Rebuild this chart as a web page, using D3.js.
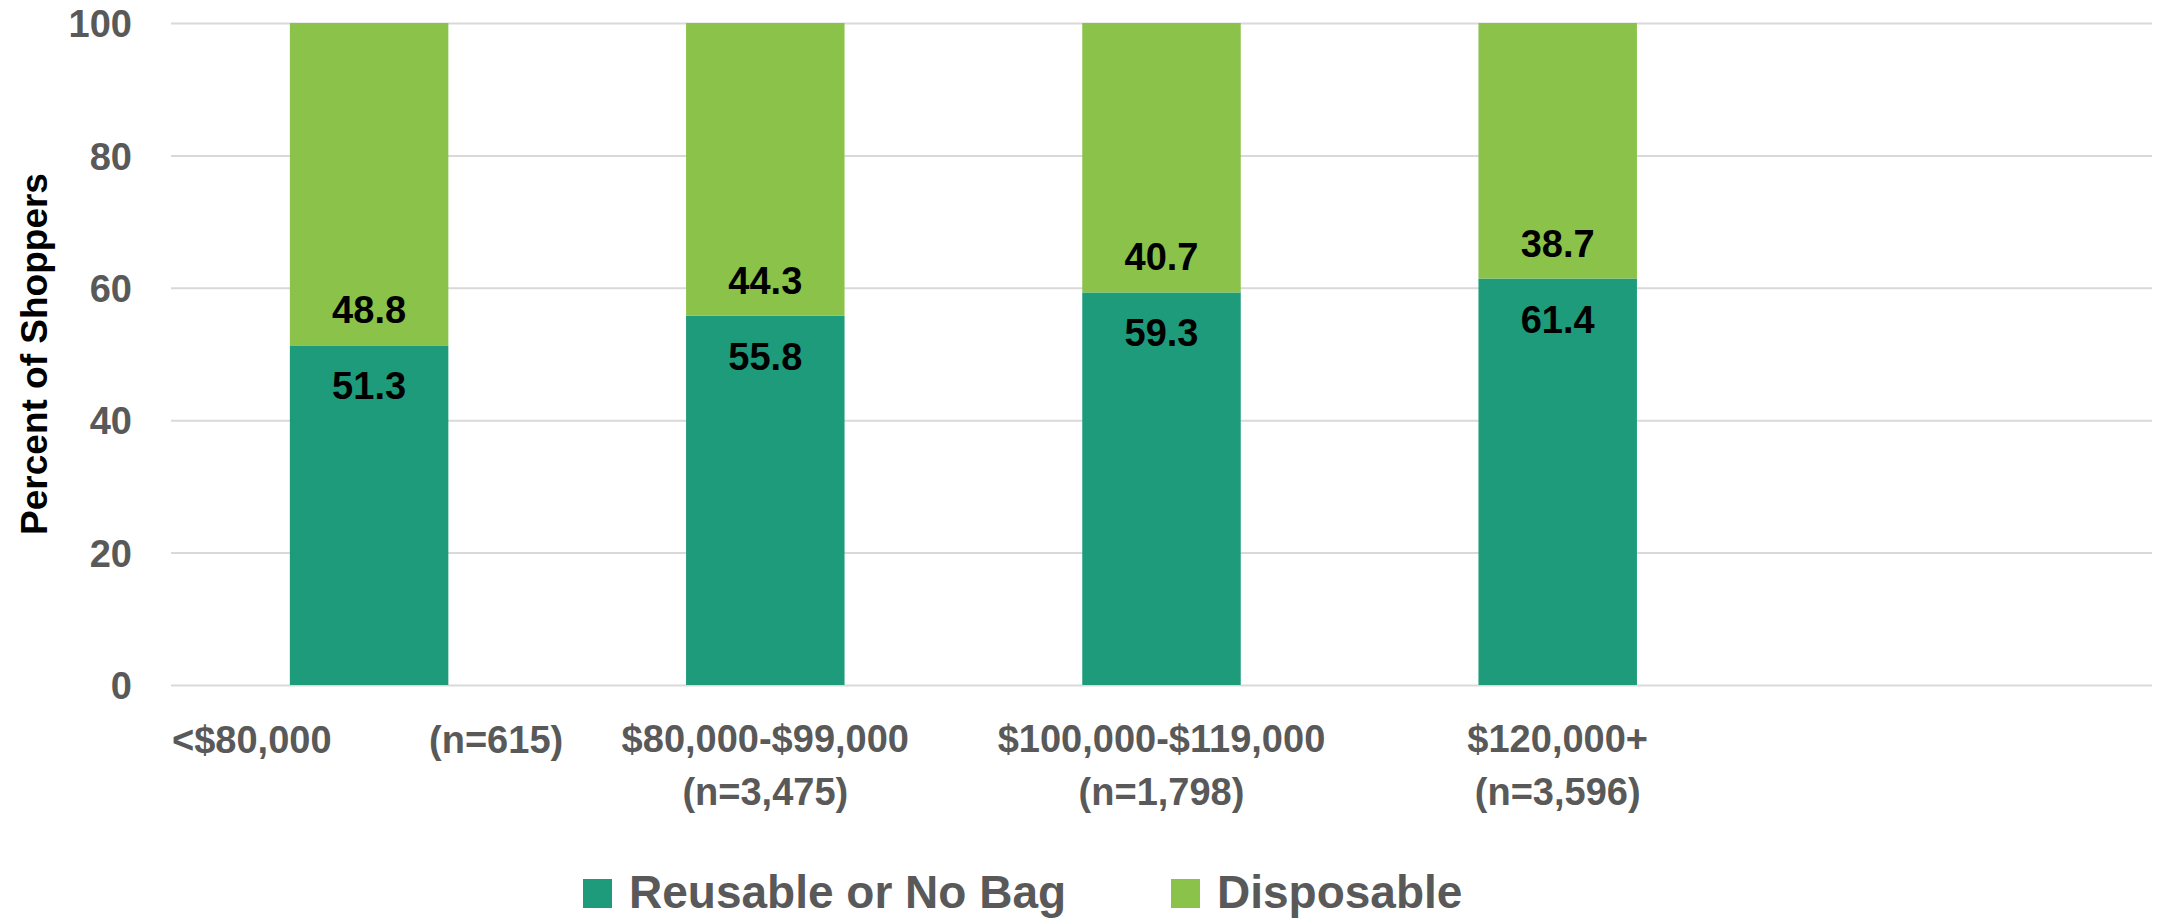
<!DOCTYPE html>
<html>
<head>
<meta charset="utf-8">
<script src="https://cdn.jsdelivr.net/npm/d3@7"></script>
<style>
  html, body { margin: 0; padding: 0; background: #ffffff; }
  svg { display: block; }
  text { font-family: "Liberation Sans", Arial, sans-serif; font-weight: bold; }
</style>
</head>
<body>
<svg id="chart" width="2165" height="918"></svg>
<script>
// ---- data ----
const categories = ["<$80,000 (n=615)", "$80,000-$99,000 (n=3,475)", "$100,000-$119,000 (n=1,798)", "$120,000+ (n=3,596)", ""];
const labelLine1 = ["<$80,000", "$80,000-$99,000", "$100,000-$119,000", "$120,000+", ""];
const labelLine2 = ["(n=615)", "(n=3,475)", "(n=1,798)", "(n=3,596)", ""];
const reusable   = [51.3, 55.8, 59.3, 61.4, null];
const disposable = [48.8, 44.3, 40.7, 38.7, null];
const seriesNames = ["Reusable or No Bag", "Disposable"];
const yTicks = [0, 20, 40, 60, 80, 100];
const yTitle = "Percent of Shoppers";

// ---- styles ----
const colors = ["#1E9B7B", "#8BC34A"];
const gray = "#595959";

const svg = d3.select("#chart");
const plot = { left: 171, right: 2152, top: 23, bottom: 685 };

const x = d3.scaleBand()
  .domain(d3.range(categories.length))
  .range([plot.left, plot.right])
  .paddingInner(0.6)
  .paddingOuter(0.3);

const y = d3.scaleLinear().domain([0, 100]).range([plot.bottom, plot.top]).clamp(true);

// gridlines
const grid = svg.append("g")
  .attr("transform", `translate(${plot.left},0)`)
  .call(d3.axisLeft(y).tickValues(yTicks).tickSize(-(plot.right - plot.left)).tickFormat(""));
grid.select(".domain").remove();
grid.selectAll(".tick line").attr("stroke", "#D9D9D9").attr("stroke-width", 2);

// y tick labels
const yAxis = svg.append("g")
  .attr("transform", `translate(132,0)`)
  .call(d3.axisLeft(y).tickValues(yTicks).tickSize(0).tickPadding(0));
yAxis.select(".domain").remove();
yAxis.selectAll(".tick text")
  .attr("fill", gray)
  .style("font-size", "38px")
  .attr("dy", "0.36em");

// y title
svg.append("text")
  .attr("transform", `translate(47,${(plot.top + plot.bottom) / 2}) rotate(-90)`)
  .attr("text-anchor", "middle")
  .attr("fill", "#000")
  .style("font-size", "37px")
  .text(yTitle);

// stacked data
const rows = categories.map((c, i) => ({ i, r: reusable[i], d: disposable[i] })).filter(d => d.r != null);

const barG = svg.append("g");
barG.selectAll("rect.reuse").data(rows).join("rect")
  .attr("class", "reuse")
  .attr("x", d => x(d.i))
  .attr("width", x.bandwidth())
  .attr("y", d => y(d.r))
  .attr("height", d => y(0) - y(d.r))
  .attr("fill", colors[0]);
barG.selectAll("rect.disp").data(rows).join("rect")
  .attr("class", "disp")
  .attr("x", d => x(d.i))
  .attr("width", x.bandwidth())
  .attr("y", d => y(d.r + d.d))
  .attr("height", d => y(d.r) - y(d.r + d.d))
  .attr("fill", colors[1]);

// data labels
const lab = svg.append("g").attr("text-anchor", "middle").style("font-size", "38px").attr("fill", "#000");
lab.selectAll("text.rl").data(rows).join("text")
  .attr("class", "rl")
  .attr("x", d => x(d.i) + x.bandwidth() / 2)
  .attr("y", d => y(d.r) + 54)
  .text(d => d3.format(".1f")(d.r));
lab.selectAll("text.dl").data(rows).join("text")
  .attr("class", "dl")
  .attr("x", d => x(d.i) + x.bandwidth() / 2)
  .attr("y", d => y(d.r) - 22)
  .text(d => d3.format(".1f")(d.d));

// x axis labels
const xl = svg.append("g").style("font-size", "38px").attr("fill", gray);
categories.forEach((c, i) => {
  if (!labelLine1[i]) return;
  const cx = x(i) + x.bandwidth() / 2;
  const bandStart = cx - x.step() / 2;
  const bandEnd = cx + x.step() / 2;
  if (i === 0) {
    // first label spreads across the full category width on one line
    xl.append("text").attr("x", bandStart + 1).attr("y", 753).attr("text-anchor", "start").text(labelLine1[i]);
    xl.append("text").attr("x", bandEnd - 4).attr("y", 753).attr("text-anchor", "end").text(labelLine2[i]);
  } else {
    xl.append("text").attr("x", cx).attr("y", 752).attr("text-anchor", "middle").text(labelLine1[i]);
    xl.append("text").attr("x", cx).attr("y", 805).attr("text-anchor", "middle").text(labelLine2[i]);
  }
});

// legend
const legendX = [583, 1171];
const leg = svg.append("g");
seriesNames.forEach((name, k) => {
  leg.append("rect").attr("x", legendX[k]).attr("y", 879).attr("width", 29).attr("height", 29).attr("fill", colors[k]);
  leg.append("text").attr("x", legendX[k] + 46).attr("y", 908)
    .attr("fill", gray).style("font-size", "46px").text(name);
});
</script>
</body>
</html>
